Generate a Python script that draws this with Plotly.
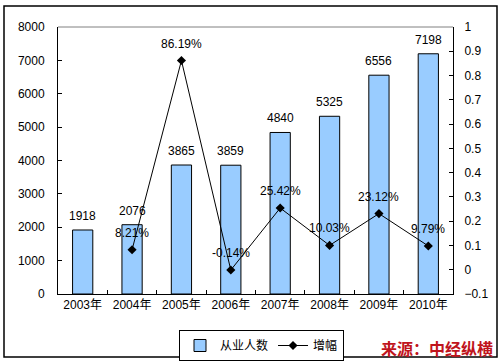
import plotly.graph_objects as go

years = ["2003年", "2004年", "2005年", "2006年", "2007年", "2008年", "2009年", "2010年"]
employees = [1918, 2076, 3865, 3859, 4840, 5325, 6556, 7198]
growth_years = ["2004年", "2005年", "2006年", "2007年", "2008年", "2009年", "2010年"]
growth = [0.0821, 0.8619, -0.0014, 0.2542, 0.1003, 0.2312, 0.0979]
growth_labels = ["8.21%", "86.19%", "-0.14%", "25.42%", "10.03%", "23.12%", "9.79%"]

W, H = 501, 362
L, R, T, B = 58, 48, 27, 68
pw, ph = W - L - R, H - T - B

def px(x):
    return (x - L) / pw

def py(y):
    return (H - B - y) / ph

font = "Liberation Sans, Arial, Noto Sans CJK SC, sans-serif"

fig = go.Figure()
fig.add_trace(go.Bar(
    x=years, y=employees, name="从业人数",
    marker=dict(color="#99CCFF", line=dict(color="black", width=1)),
))
for xv, yv in zip(years, employees):
    fig.add_annotation(x=xv, y=yv, yref="y", text=str(yv), showarrow=False,
                       yshift=14, font=dict(size=12, color="black"))
fig.add_trace(go.Scatter(
    x=growth_years, y=growth, name="增幅", yaxis="y2",
    mode="lines+markers",
    line=dict(color="black", width=1),
    marker=dict(symbol="diamond", size=7, color="black"),
))
for xv, yv, lab in zip(growth_years, growth, growth_labels):
    fig.add_annotation(x=xv, y=yv, yref="y2", text=lab, showarrow=False,
                       yshift=17, font=dict(size=12, color="black"))

fig.add_annotation(xref="paper", yref="paper", x=px(495), y=py(348),
                   xanchor="right", yanchor="middle", showarrow=False,
                   text="<b>来源：中经纵横</b>",
                   font=dict(family="Noto Sans CJK SC", size=16, color="#C0141C"))

fig.update_layout(
    width=W, height=H,
    margin=dict(l=L, r=R, t=T, b=B, autoexpand=False),
    paper_bgcolor="white", plot_bgcolor="white",
    font=dict(family=font, size=12, color="black"),
    bargap=0.59,
    showlegend=True,
    legend=dict(orientation="h", x=px(179), y=py(330), xanchor="left", yanchor="top",
                bordercolor="black", borderwidth=1, font=dict(size=12),
                itemwidth=30, tracegroupgap=0),
    xaxis=dict(type="category", showline=True, linecolor="black", linewidth=1,
               ticks="inside", ticklen=4, tickcolor="black", tickson="boundaries",
               showgrid=False, tickfont=dict(size=12), automargin=False),
    yaxis=dict(range=[0, 8000], dtick=1000, showline=True, linecolor="black", linewidth=1,
               ticks="inside", ticklen=4, tickcolor="black", showgrid=False, zeroline=False,
               tickfont=dict(size=12), ticklabelstandoff=10, automargin=False),
    yaxis2=dict(range=[-0.1, 1], dtick=0.1, overlaying="y", side="right",
                showline=True, linecolor="black", linewidth=1,
                ticks="inside", ticklen=4, tickcolor="black", showgrid=False, zeroline=False,
                tickfont=dict(size=12), ticklabelstandoff=8, automargin=False),
    shapes=[
        dict(type="line", xref="paper", yref="paper", x0=0, x1=1, y0=1, y1=1,
             line=dict(color="#808080", width=1)),
        dict(type="rect", xref="paper", yref="paper", x0=px(4), x1=px(497), y0=py(6), y1=py(357),
             line=dict(color="black", width=1.5), layer="below"),
    ],
)

fig.write_html("out.html", config={"displayModeBar": False},
               post_script="document.body.style.margin='0px';")
